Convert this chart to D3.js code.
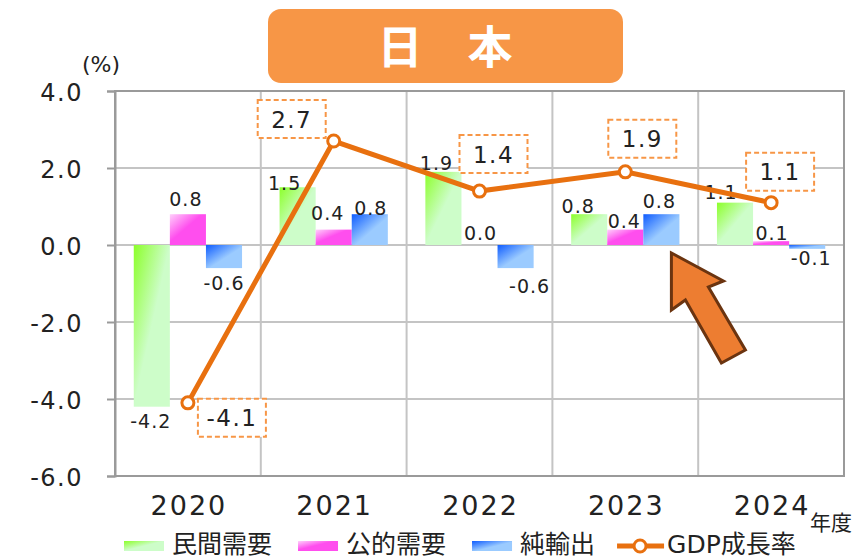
<!DOCTYPE html>
<html>
<head>
<meta charset="utf-8">
<script src="https://cdn.jsdelivr.net/npm/d3@7"></script>
<style>
  body { margin: 0; background: #fff; }
  svg { display: block; font-family: "DejaVu Sans", "Noto Sans CJK JP", sans-serif; }
</style>
</head>
<body>
<svg id="chart" width="864" height="557"></svg>
<script>
// values
const years = ['2020', '2021', '2022', '2023', '2024']
const privateDemand = [-4.2, 1.5, 1.9, 0.8, 1.1]
const publicDemand = [0.8, 0.4, 0.0, 0.4, 0.1]
const netExports = [-0.6, 0.8, -0.6, 0.8, -0.1]
const gdpGrowth = [-4.1, 2.7, 1.4, 1.9, 1.1]
const yTicks = [4, 2, 0, -2, -4, -6]
const seriesNames = ['民間需要', '公的需要', '純輸出']

// label nudges (layout only), [dx, dy] per year
const barLabelNudge = [
  [[-1, 0], [-13, 9], [-7, 4], [-11, 5], [-14, 2]],
  [[-2, -2], [-6, -4], [1, 1], [-1, 4], [1, 5]],
  [[0, 1], [1, 7], [14, 4], [-2, 0], [4, -5]]
]
const gdpLabelOffset = [[44, 15], [-42, -22], [14, -37], [17, -33], [9, -31]]

const svg = d3.select('#chart')
const margin = {left: 115, right: 20, top: 91, bottom: 81}
const W = 864, H = 557
const x0 = d3.scaleBand().domain(years).range([margin.left, W - margin.right])
const series = [privateDemand, publicDemand, netExports]
const x1 = d3.scaleBand().domain(d3.range(3)).range([0, x0.bandwidth()]).paddingOuter(0.52)
const y = d3.scaleLinear().domain([-6, 4]).range([H - margin.bottom, margin.top])

const defs = svg.append('defs')
const grads = [
  ['g0', [['0', '#8cff2a'], ['0.5', '#cdfdc9'], ['1', '#cdfdc9']]],
  ['g1', [['0', '#ffd0fb'], ['0.45', '#ff4eee'], ['1', '#ff4eee']]],
  ['g2', [['0', '#0f5cff'], ['0.55', '#9bcbff'], ['1', '#9bcbff']]]
]
grads.forEach(([id, stops]) => {
  const lg = defs.append('linearGradient').attr('id', id)
    .attr('x1', 0).attr('y1', 0).attr('x2', 1).attr('y2', 1)
  stops.forEach(([o, c]) => lg.append('stop').attr('offset', o).attr('stop-color', c))
})

// title
svg.append('rect').attr('x', 268).attr('y', 9).attr('width', 355).attr('height', 74)
  .attr('rx', 13).attr('fill', '#f79646')
svg.append('text').attr('x', 445).attr('y', 44).attr('text-anchor', 'middle')
  .attr('dominant-baseline', 'central').attr('fill', '#fff').attr('font-weight', 'bold')
  .attr('font-size', 45).style('font-family', '"Noto Sans CJK JP"').text('日　本')

// grid
const grid = svg.append('g')
grid.selectAll('line.h').data(yTicks.filter(t => t > -6 && t < 4)).join('line')
  .attr('x1', margin.left).attr('x2', W - margin.right)
  .attr('y1', d => y(d)).attr('y2', d => y(d))
  .attr('stroke', '#c4c4c4').attr('stroke-width', 2)
grid.selectAll('line.v').data(years.slice(1)).join('line')
  .attr('x1', d => x0(d)).attr('x2', d => x0(d))
  .attr('y1', y(4)).attr('y2', y(-6))
  .attr('stroke', '#c4c4c4').attr('stroke-width', 2)
svg.append('rect').attr('x', margin.left).attr('y', y(4))
  .attr('width', W - margin.right - margin.left).attr('height', y(-6) - y(4))
  .attr('fill', 'none').attr('stroke', '#9a9a9a').attr('stroke-width', 2)

// y axis
const yAxis = svg.append('g').attr('transform', `translate(${margin.left},0)`)
  .call(d3.axisLeft(y).tickValues(yTicks).tickSize(8).tickPadding(24)
    .tickFormat(d => d3.format('.1f')(d).replace('−', '-')))
yAxis.select('.domain').attr('stroke', '#9a9a9a').attr('stroke-width', 2)
yAxis.selectAll('.tick line').attr('stroke', '#9a9a9a').attr('stroke-width', 2)
yAxis.selectAll('.tick text').attr('font-size', 24).attr('fill', '#222')
  .attr('font-family', 'DejaVu Sans').style('letter-spacing', '1.5px').attr('dy', '0.4em')

svg.append('text').attr('x', 82).attr('y', 72).attr('font-size', 22).attr('fill', '#222')
  .text('(%)')

// x labels
svg.selectAll('text.year').data(years).join('text').attr('class', 'year')
  .attr('x', d => x0(d) + x0.bandwidth() / 2 + 1).attr('y', 515)
  .attr('text-anchor', 'middle').attr('font-size', 27).attr('fill', '#222')
  .style('letter-spacing', '2px').text(d => d)
svg.append('text').attr('x', 810).attr('y', 530).attr('font-size', 21).attr('fill', '#222')
  .style('font-family', '"Noto Sans CJK JP"').text('年度')

// bars
series.forEach((vals, s) => {
  const g = svg.append('g')
  g.selectAll('rect').data(vals).join('rect')
    .attr('x', (d, i) => x0(years[i]) + x1(s))
    .attr('width', x1.bandwidth())
    .attr('y', d => y(Math.max(0, d)))
    .attr('height', d => Math.abs(y(d) - y(0)))
    .attr('fill', `url(#g${s})`)
  g.selectAll('text').data(vals).join('text')
    .attr('x', (d, i) => x0(years[i]) + x1(s) + x1.bandwidth() / 2 + barLabelNudge[s][i][0])
    .attr('y', (d, i) => (d >= 0 ? y(d) - 6 : y(d) + 21) + barLabelNudge[s][i][1])
    .attr('text-anchor', 'middle').attr('font-size', 19).attr('fill', '#222')
    .style('letter-spacing', '1px').text(d => d.toFixed(1))
})

// GDP line
const cx = i => x0(years[i]) + x0.bandwidth() / 2
svg.append('path').datum(gdpGrowth)
  .attr('d', d3.line().x((d, i) => cx(i)).y(d => y(d)))
  .attr('fill', 'none').attr('stroke', '#e8700f').attr('stroke-width', 5)
svg.selectAll('circle.pt').data(gdpGrowth).join('circle').attr('class', 'pt')
  .attr('cx', (d, i) => cx(i)).attr('cy', d => y(d)).attr('r', 6)
  .attr('fill', '#fff').attr('stroke', '#e8700f').attr('stroke-width', 3)

const boxes = svg.selectAll('g.gl').data(gdpGrowth).join('g').attr('class', 'gl')
  .attr('transform', (d, i) => `translate(${cx(i) + gdpLabelOffset[i][0]},${y(d) + gdpLabelOffset[i][1]})`)
boxes.append('rect').attr('x', -34).attr('y', -19).attr('width', 68).attr('height', 38)
  .attr('fill', '#fff').attr('stroke', '#f79646').attr('stroke-width', 2)
  .attr('stroke-dasharray', '5,3')
boxes.append('text').attr('y', 8.5).attr('text-anchor', 'middle').attr('font-size', 23)
  .attr('fill', '#222').style('letter-spacing', '1.5px').text(d => d.toFixed(1))

// arrow pointing at 2023 net exports
const tipX = x0('2023') + 119, tipY = y(0) + 8
const arrowPts = [[0, 0], [0, 57], [14, 47], [50, 110], [74, 97], [37, 34], [52, 28]]
svg.append('path')
  .attr('d', 'M' + arrowPts.map(([a, b]) => `${tipX + a},${tipY + b}`).join('L') + 'Z')
  .attr('fill', '#ed7d31').attr('stroke', '#6b3410').attr('stroke-width', 3)
  .attr('stroke-linejoin', 'miter')

// legend
const legend = svg.append('g').attr('transform', 'translate(124,0)')
let lx = 0
const legendItems = [...seriesNames.map((n, s) => ({n, s})), {n: 'GDP成長率', s: 3}]
legendItems.forEach(({n, s}) => {
  if (s < 3) {
    legend.append('rect').attr('x', lx).attr('y', 541).attr('width', 40).attr('height', 10)
      .attr('fill', `url(#g${s})`)
    lx += 48
  } else {
    lx -= 4
    legend.append('line').attr('x1', lx).attr('x2', lx + 47).attr('y1', 546).attr('y2', 546)
      .attr('stroke', '#e8700f').attr('stroke-width', 5)
    legend.append('circle').attr('cx', lx + 23).attr('cy', 546).attr('r', 6)
      .attr('fill', '#fff').attr('stroke', '#e8700f').attr('stroke-width', 3)
    lx += 50
  }
  const t = legend.append('text').attr('x', lx).attr('y', 553).attr('font-size', 25)
    .attr('fill', '#222').text(n)
  lx += t.node().getComputedTextLength() + 26
})
</script>
</body>
</html>
